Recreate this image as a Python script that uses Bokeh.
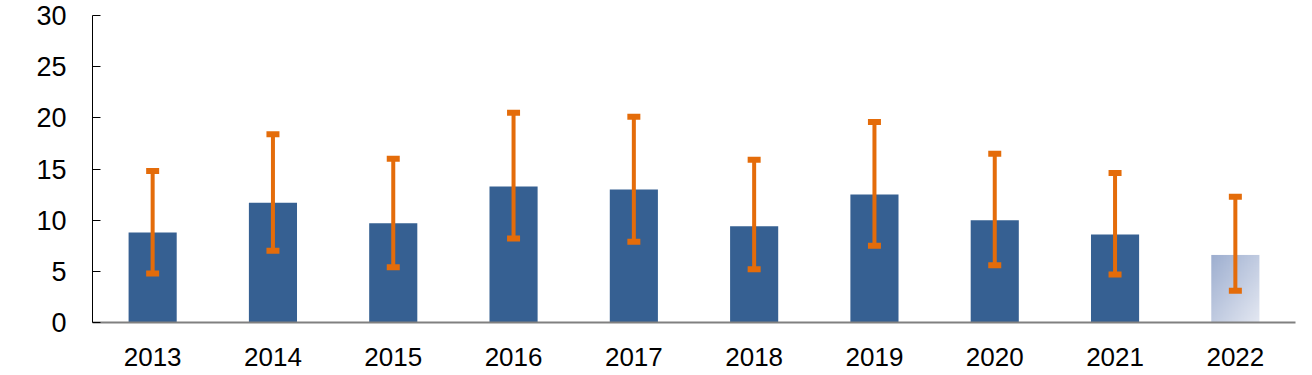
import numpy as np
from bokeh.plotting import figure
from bokeh.models import FixedTicker, Range1d, ColumnDataSource
from bokeh.embed import file_html
from bokeh.resources import INLINE

years = ["2013", "2014", "2015", "2016", "2017", "2018", "2019", "2020", "2021", "2022"]
values = [8.8, 11.7, 9.7, 13.3, 13.0, 9.4, 12.5, 10.0, 8.6, 6.6]
err_low = [4.8, 7.0, 5.4, 8.2, 7.9, 5.2, 7.5, 5.6, 4.7, 3.1]
err_high = [14.8, 18.4, 16.0, 20.5, 20.1, 15.9, 19.6, 16.5, 14.6, 12.3]
y_ticks = [0, 5, 10, 15, 20, 25, 30]

BAR = "#366092"
ORANGE = "#E46C0A"
FONT = "Liberation Sans"
BAR_W = 0.4

idx = list(range(len(years)))

p = figure(width=1304, height=375, output_backend="svg", toolbar_location=None,
           x_range=Range1d(-0.5, len(years) - 0.5), y_range=Range1d(0, 30),
           min_border_left=92, min_border_right=9, min_border_top=15, min_border_bottom=53)
p.outline_line_color = None
p.xgrid.visible = False
p.ygrid.visible = False
p.background_fill_color = "white"

# solid bars (all but the last, which is shown with a gradient)
solid = ColumnDataSource(dict(x=idx[:-1], top=values[:-1]))
p.vbar(x="x", top="top", width=BAR_W, bottom=0, source=solid, fill_color=BAR, line_color=None)

# gradient bar for last year
N, M = 64, 32
img = np.zeros((N, M), dtype=np.uint32)
view = img.view(dtype=np.uint8).reshape((N, M, 4))
c0 = np.array([0x9E, 0xAF, 0xD0], dtype=float)
c1 = np.array([0xE4, 0xE8, 0xF2], dtype=float)
for i in range(N):
    v = i / (N - 1)
    for j in range(M):
        u = j / (M - 1)
        t = (u + (1 - v)) / 2
        c = c0 + (c1 - c0) * t
        view[i, j, 0:3] = c.astype(np.uint8)
        view[i, j, 3] = 255
last = len(years) - 1
p.image_rgba(image=[img], x=[idx[last] - BAR_W / 2], y=[0], dw=[BAR_W], dh=[values[last]])

# error bars
eb = ColumnDataSource(dict(x=idx, lo=err_low, hi=err_high))
p.segment(x0="x", y0="lo", x1="x", y1="hi", source=eb, line_color=ORANGE, line_width=4)
p.rect(x="x", y="hi", width=13, height=6, width_units="screen", height_units="screen",
       source=eb, fill_color=ORANGE, line_color=None)
p.rect(x="x", y="lo", width=13, height=6, width_units="screen", height_units="screen",
       source=eb, fill_color=ORANGE, line_color=None)

# y axis
p.yaxis.ticker = FixedTicker(ticks=y_ticks)
p.yaxis.axis_line_color = "black"
p.yaxis.axis_line_width = 1
p.yaxis.major_tick_in = 8
p.yaxis.major_tick_out = 0
p.yaxis.major_tick_line_color = "black"
p.yaxis.minor_tick_line_color = None
p.yaxis.major_label_standoff = 26
p.yaxis.major_label_text_font = FONT
p.yaxis.major_label_text_font_size = "27px"
p.yaxis.major_label_text_color = "black"

# x axis
p.xaxis.ticker = FixedTicker(ticks=idx)
p.xaxis.major_label_overrides = {i: y for i, y in zip(idx, years)}
p.xaxis.axis_line_color = "#808080"
p.xaxis.axis_line_width = 2
p.xaxis.major_tick_line_color = None
p.xaxis.minor_tick_line_color = None
p.xaxis.major_label_standoff = 19
p.xaxis.major_label_text_font = FONT
p.xaxis.major_label_text_font_size = "26px"
p.xaxis.major_label_text_color = "black"

open("out.html", "w").write(file_html(p, INLINE))
